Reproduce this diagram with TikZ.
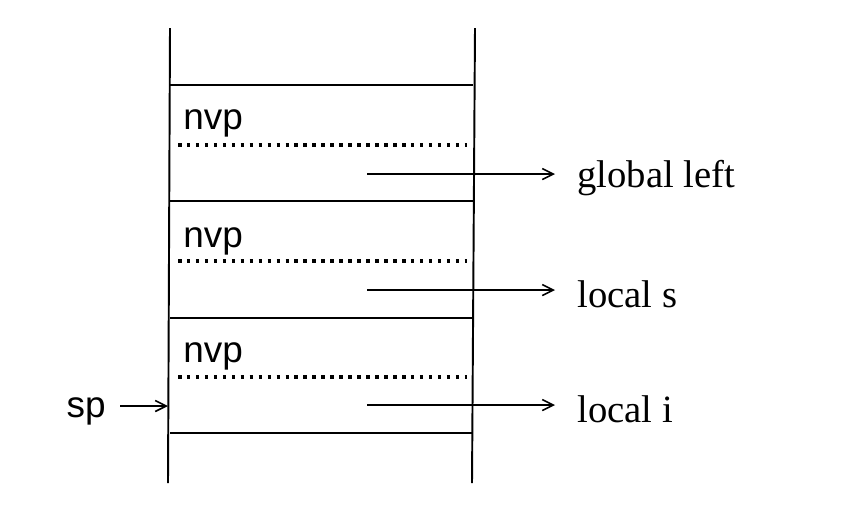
\documentclass[tikz,border=0pt]{standalone}
\usepackage{fontspec}
\setmainfont{Liberation Serif}
\setsansfont{Liberation Sans}
\usetikzlibrary{arrows.meta,positioning}
\tikzset{%
    >={Straight Barb[width=2.2mm,length=2.2mm]},
    % Specifications for style of nodes:
    wall/.style = {line width=1.1pt},
    slot/.style = {line width=1.1pt},
    sep/.style = {line width=2pt, dash pattern=on 2pt off 3.1pt},
    tag/.style = {font=\sffamily\fontsize{21}{23}\selectfont, inner sep=0pt},
    var/.style = {font=\fontsize{22}{24}\selectfont, inner sep=0pt, anchor=west},
    ptr/.style = {->, line width=0.9pt}
}
\begin{document}
\begin{tikzpicture}[x=0.02cm, y=-0.02cm]
                \useasboundingbox (0,0) rectangle (848,529);
                % stack walls
                \coordinate (LT) at (170,28);  \coordinate (LB) at (168,483);
                \coordinate (RT) at (475,28);  \coordinate (RB) at (472,483);
                \draw[wall] (LT) -- (LB);
                \draw[wall] (RT) -- (RB);
                % frame borders
                \foreach \y/\n in {85/1, 201/2, 318/3, 433/4}
                    \draw[slot] (170,\y) -- (473,\y);
                % frames
                \foreach \y/\n in {123/1, 241/2, 356/3}
                    \node[tag, anchor=west] (N\n) at (183,\y) {nvp};
                \foreach \y/\n in {145/1, 261/2, 377/3}
                    \draw[sep] (178,\y) -- (467,\y);
                % variables
                \node[var] (V1) at (577,178) {global left};
                \node[var] (V2) at (577,294) {local s};
                \node[var] (V3) at (577,409) {local i};
                \foreach \y/\n in {174/1, 290/2, 405/3} {
                    \coordinate (A\n) at (367,\y);
                    \draw[ptr, shorten >=0.44cm] (A\n) -- (A\n -| V\n.west);
                }
                % stack pointer
                \node[tag, anchor=east] (SP) at (106,411) {sp};
                \coordinate (S) at (168,406);
                \draw[ptr, shorten <=8pt] (SP.east |- S) -- (S);
\end{tikzpicture}
\end{document}
